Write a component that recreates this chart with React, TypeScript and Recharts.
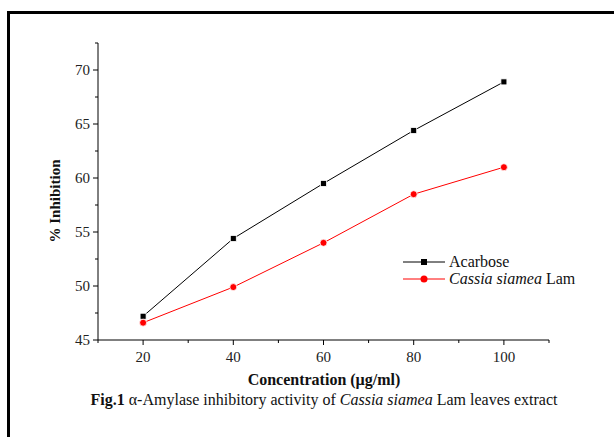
import { Line, LineChart, XAxis, YAxis } from "recharts";

const concentrations = [20, 40, 60, 80, 100];
const acarbose = [47.2, 54.4, 59.5, 64.4, 68.9];
const cassia = [46.6, 49.9, 54.0, 58.5, 61.0];

const xTicks = [10, 20, 30, 40, 50, 60, 70, 80, 90, 100, 110];
const xLabels = [20, 40, 60, 80, 100];
const yTicks = [45, 47.5, 50, 52.5, 55, 57.5, 60, 62.5, 65, 67.5, 70, 72.5];
const yLabels = [45, 50, 55, 60, 65, 70];

const data = concentrations.map((c, i) => ({
  conc: c,
  Acarbose: acarbose[i],
  Cassia: cassia[i],
}));

const FONT = '"Liberation Serif", "Times New Roman", serif';

function XTick(props: any) {
  const { x, y, payload } = props;
  const major = xLabels.includes(payload.value);
  return (
    <g>
      <line x1={x} x2={x} y1={y} y2={y + (major ? 5 : 3)} stroke="#000" />
      {major && (
        <text x={x} y={y + 22} textAnchor="middle" fontSize={15} fontFamily={FONT} fill="#222">
          {payload.value}
        </text>
      )}
    </g>
  );
}

function YTick(props: any) {
  const { x, y, payload } = props;
  const major = yLabels.includes(payload.value);
  return (
    <g>
      <line x1={x} x2={x - (major ? 5 : 3)} y1={y} y2={y} stroke="#000" />
      {major && (
        <text x={x - 8} y={y + 5} textAnchor="end" fontSize={15} fontFamily={FONT} fill="#222">
          {payload.value}
        </text>
      )}
    </g>
  );
}

function Square(props: any) {
  const { cx, cy } = props;
  if (cx == null || cy == null) return null;
  return <rect x={cx - 3} y={cy - 3} width={6} height={6} fill="#000" stroke="#fff" strokeWidth={0.8} />;
}

function Dot(props: any) {
  const { cx, cy } = props;
  if (cx == null || cy == null) return null;
  return <circle cx={cx} cy={cy} r={3.5} fill="#ff0000" stroke="#fff" strokeWidth={0.8} />;
}

function LegendBox() {
  return (
    <svg width={180} height={40} style={{ overflow: "visible", display: "block" }}>
      <line x1={3} x2={45} y1={8} y2={8} stroke="#000" />
      <rect x={21} y={5} width={6} height={6} fill="#000" />
      <text x={49} y={13} fontSize={16} fontFamily={FONT} fill="#111">Acarbose</text>
      <line x1={3} x2={45} y1={25} y2={25} stroke="#ff0000" />
      <circle cx={24} cy={25} r={3.5} fill="#ff0000" />
      <text x={49} y={30} fontSize={16} fontFamily={FONT} fill="#111">
        <tspan fontStyle="italic">Cassia siamea</tspan> Lam
      </text>
    </svg>
  );
}

export default function App() {
  return (
    <div style={{ position: "absolute", left: 0, top: 0, width: 614, height: 437, background: "#fff", overflow: "hidden" }}>
      <div
        style={{
          position: "absolute",
          left: 7,
          top: 11,
          width: 620,
          height: 440,
          borderTop: "3px solid #000",
          borderLeft: "3px solid #000",
        }}
      />
      <div style={{ position: "absolute", left: 0, top: 0 }}>
        <LineChart width={614} height={437} data={data} margin={{ top: 43, right: 65, left: 38, bottom: 67 }}>
          <XAxis
            dataKey="conc"
            type="number"
            domain={[10, 110]}
            ticks={xTicks}
            interval={0}
            tickSize={0}
            tickMargin={0}
            tick={<XTick />}
            axisLine={{ stroke: "#000" }}
            height={30}
          />
          <YAxis
            type="number"
            domain={[45, 72.5]}
            ticks={yTicks}
            interval={0}
            tickSize={0}
            tickMargin={0}
            tick={<YTick />}
            axisLine={{ stroke: "#000" }}
            width={60}
          />
          <Line
            dataKey="Acarbose"
            stroke="#000"
            strokeWidth={1}
            dot={<Square />}
            activeDot={false}
            isAnimationActive={false}
          />
          <Line
            dataKey="Cassia"
            stroke="#ff0000"
            strokeWidth={1}
            dot={<Dot />}
            activeDot={false}
            isAnimationActive={false}
          />
        </LineChart>
      </div>
      <div style={{ position: "absolute", left: 400, top: 254 }}>
        <LegendBox />
      </div>
      <div
        style={{
          position: "absolute",
          left: 55,
          top: 201,
          transform: "translate(-50%, -50%) rotate(-90deg)",
          fontFamily: FONT,
          fontWeight: "bold",
          fontSize: 15,
          whiteSpace: "nowrap",
          color: "#111",
        }}
      >
        % Inhibition
      </div>
      <div
        style={{
          position: "absolute",
          left: 0,
          width: 648,
          top: 371,
          textAlign: "center",
          fontFamily: FONT,
          fontWeight: "bold",
          fontSize: 16,
          color: "#111",
        }}
      >
        Concentration (µg/ml)
      </div>
      <div
        style={{
          position: "absolute",
          left: 0,
          width: 648,
          top: 391,
          textAlign: "center",
          fontFamily: FONT,
          fontSize: 16,
          color: "#111",
          whiteSpace: "nowrap",
        }}
      >
        <b>Fig.1</b> α-Amylase inhibitory activity of <i>Cassia siamea</i> Lam leaves extract
      </div>
    </div>
  );
}
